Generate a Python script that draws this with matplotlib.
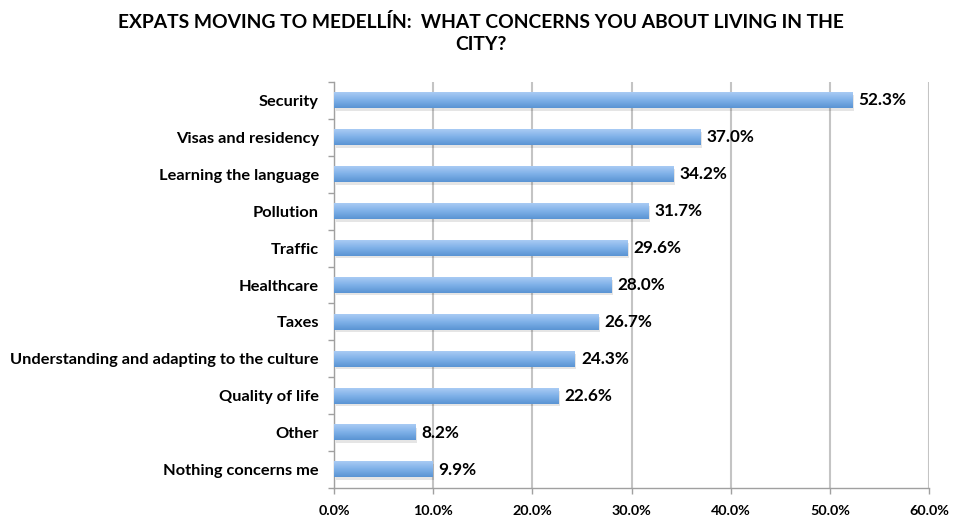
import matplotlib
matplotlib.use("Agg")
import matplotlib.pyplot as plt
import numpy as np
from matplotlib.colors import LinearSegmentedColormap

categories = ["Security", "Visas and residency", "Learning the language", "Pollution",
              "Traffic", "Healthcare", "Taxes", "Understanding and adapting to the culture",
              "Quality of life", "Other", "Nothing concerns me"]
values = [52.3, 37.0, 34.2, 31.7, 29.6, 28.0, 26.7, 24.3, 22.6, 8.2, 9.9]
xticks = [0, 10, 20, 30, 40, 50, 60]
title = "EXPATS MOVING TO MEDELLÍN:  WHAT CONCERNS YOU ABOUT LIVING IN THE\nCITY?"

plt.rcParams['font.family'] = ['Lato', 'DejaVu Sans']

fig = plt.figure(figsize=(9.61, 5.22), dpi=100)
ax = fig.add_axes([0.3476, 0.065, 0.6191, 0.778])

n = len(categories)
ypos = np.arange(n)
h = 0.42
# row 0 = top of bar (light), last row = bottom (dark)
cmap = LinearSegmentedColormap.from_list("g", ["#a9cbf4", "#7eb0e8", "#5a94d3"])
grad = np.linspace(0, 1, 64).reshape(-1, 1)

for y, v in zip(ypos, values):
    ax.add_patch(plt.Rectangle((0.15, y - h / 2 + 0.07), v, h, facecolor="#000000",
                               alpha=0.10, edgecolor="none", zorder=2))
    ax.imshow(grad, extent=[0, v, y + h / 2, y - h / 2], cmap=cmap, aspect="auto",
              origin="upper", zorder=3, interpolation="bilinear")
    ax.text(v + 0.6, y, f"{v:.1f}%", va="center", ha="left", fontsize=12.3,
            fontweight="bold", color="black", zorder=4)

ax.set_xlim(0, 60)
ax.set_ylim(n - 0.5, -0.5)
ax.set_yticks(ypos)
ax.set_yticklabels(categories, fontsize=11.8, fontweight="bold")
ax.set_yticks(np.arange(n + 1) - 0.5, minor=True)
ax.tick_params(axis="y", which="major", length=0, pad=11)
ax.tick_params(axis="y", which="minor", length=4, color="#a0a0a0", width=1)
ax.set_xticks(xticks)
ax.set_xticklabels([f"{t:.1f}%" for t in xticks], fontsize=10.3, fontweight="bold")
ax.tick_params(axis="x", length=4, color="#a0a0a0", width=1, pad=8)
ax.grid(axis="x", color="#c4c4c4", linewidth=1.5, zorder=0)
ax.set_axisbelow(True)
for s in ["top", "right"]:
    ax.spines[s].set_visible(False)
for s in ["left", "bottom"]:
    ax.spines[s].set_color("#a0a0a0")
    ax.spines[s].set_linewidth(1)

fig.text(0.5, 0.975, title, ha="center", va="top", fontsize=13.9, fontweight="bold",
         linespacing=1.35)

fig.savefig("out.png", dpi=100)
